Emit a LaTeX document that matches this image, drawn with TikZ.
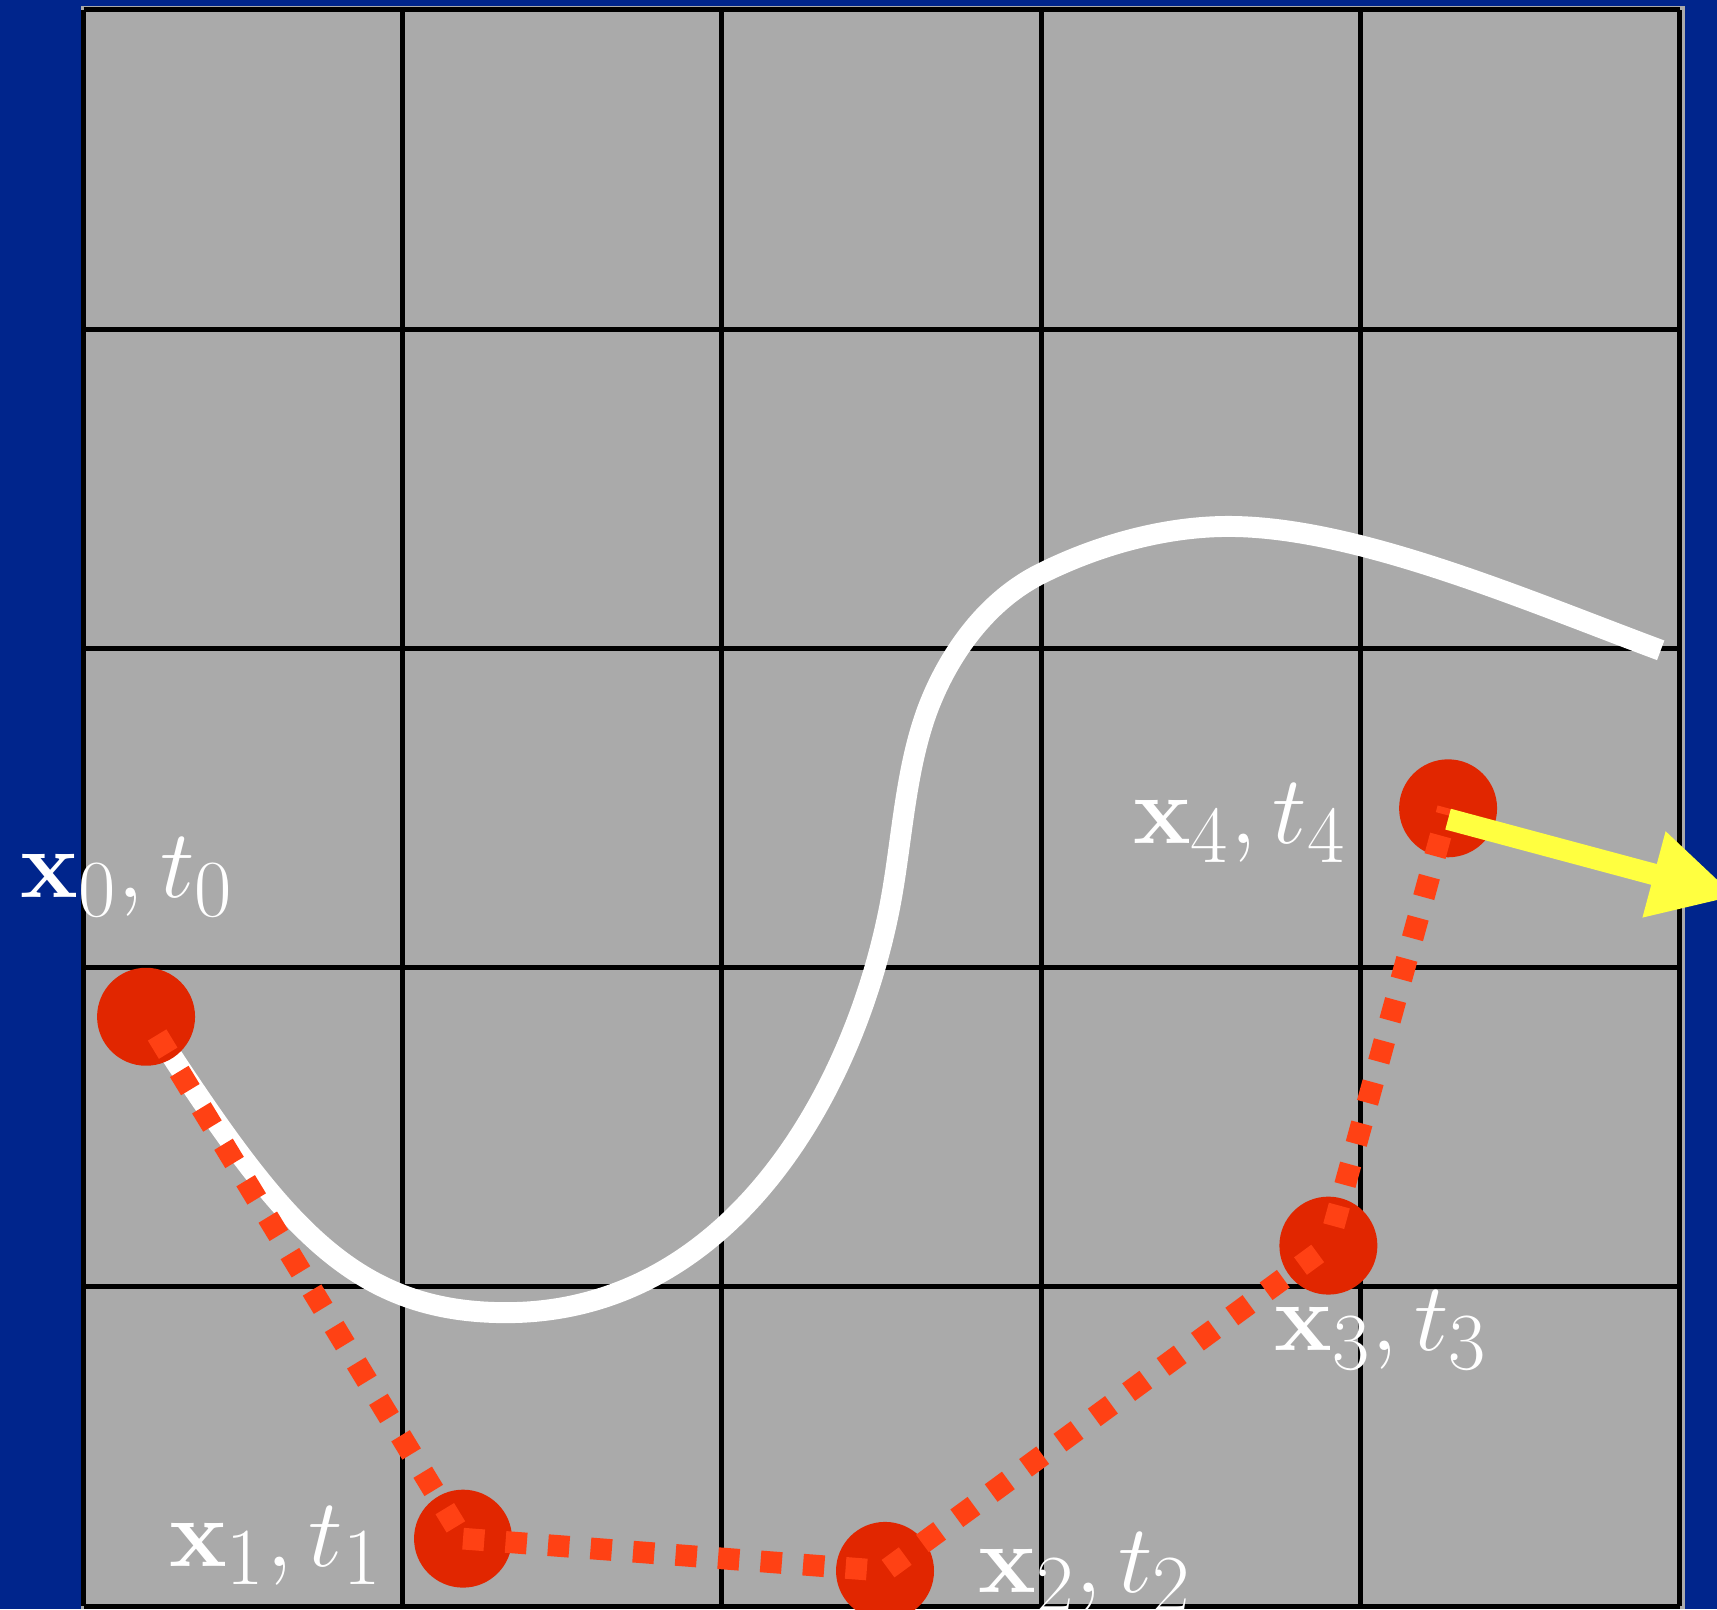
\documentclass[tikz,border=0pt]{standalone}
\usepackage{graphicx}
\usetikzlibrary{arrows.meta}
\definecolor{bgblue}{RGB}{0,37,140}
\definecolor{gridgray}{RGB}{170,170,170}
\definecolor{dotred}{RGB}{225,38,0}
\definecolor{dashred}{RGB}{255,65,20}
\definecolor{arrowyellow}{RGB}{255,255,64}
\newcommand{\lbltext}[1]{\scalebox{1.045}{$#1$}}
\begin{document}
\begin{tikzpicture}[x=3cm,y=3cm,
  dotnode/.style={circle,fill=dotred,inner sep=0pt,minimum size=26.2pt},
  gridline/.style={black,line width=1.34pt},
  trajcurve/.style={white,line width=5.6pt},
  reddash/.style={draw=dashred,line width=5.8pt,dash pattern=on 5.7pt off 5.7pt},
  yarrow/.style={draw=arrowyellow,line width=5.75pt,-{Triangle[length=22.7pt,width=22.1pt]}},
  lbl/.style={text=white,anchor=base west,inner sep=0pt,font=\fontsize{24.88}{30}\selectfont}
]
\useasboundingbox (-0.2616,-0.0094) rectangle (5.1175,5.0313);
\fill[bgblue] (-0.2616,-0.0094) rectangle (5.1175,5.0313);
\fill[gridgray] (-0.008,-0.0094) rectangle (5.017,5.0125);
\foreach \i in {0,...,5} {
  \draw[gridline] (\i,0) -- (\i,5);
  \draw[gridline] (0,\i) -- (5,\i);
}
% positions
\coordinate (c0) at (0.196,1.846);
\coordinate (c1) at (1.189,0.211);
\coordinate (c2) at (2.511,0.110);
\coordinate (c3) at (3.900,1.129);
\coordinate (c4) at (4.275,2.499);
\coordinate (atip) at (5.177,2.223);
% white trajectory
\draw[trajcurve] (c0)
  .. controls (0.605,1.218) and (0.824,0.919) .. (1.324,0.919)
  .. controls (2.024,0.919) and (2.414,1.608) .. (2.527,2.197)
  .. controls (2.566,2.403) and (2.574,2.633) .. (2.652,2.828)
  .. controls (2.719,2.995) and (2.836,3.152) .. (2.997,3.233)
  .. controls (3.176,3.323) and (3.387,3.382) .. (3.587,3.382)
  .. controls (3.987,3.382) and (4.519,3.151) .. (4.941,2.994);
% dots
\node[dotnode] (x0) at (c0) {};
\node[dotnode] (x1) at (c1) {};
\node[dotnode] (x2) at (c2) {};
\node[dotnode] (x3) at (c3) {};
\node[dotnode] (x4) at (c4) {};
% dashed links
\draw[reddash,dash phase=5.7pt] (x0.center) -- (x1.center);
\draw[reddash] (x1.center) -- (x2.center);
\draw[reddash,dash phase=10.4pt] (x2.center) -- (x3.center);
\draw[reddash,dash phase=6.0pt] (x3.center) -- (x4.center);
% yellow arrow
\draw[yarrow] ([yshift=-2.9pt]x4.center) -- (atip);
% labels
\node[lbl] (l0) at (-0.199,2.219) {\lbltext{\mathbf{x}_0, t_0}};
\node[lbl] (l1) at (0.266,0.125) {\lbltext{\mathbf{x}_1, t_1}};
\node[lbl] (l2) at (2.802,0.042) {\lbltext{\mathbf{x}_2, t_2}};
\node[lbl] (l3) at (3.730,0.799) {\lbltext{\mathbf{x}_3, t_3}};
\node[lbl] (l4) at (3.286,2.388) {\lbltext{\mathbf{x}_4, t_4}};
\end{tikzpicture}
\end{document}
